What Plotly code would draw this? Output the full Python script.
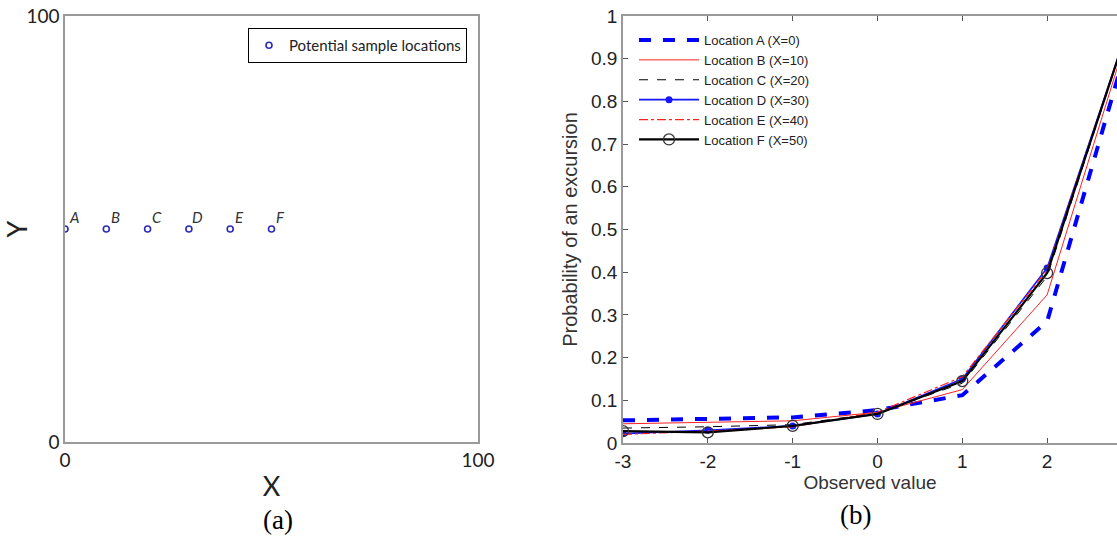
import plotly.graph_objects as go

# ---- data ----
site_x = [0, 10, 20, 30, 40, 50]
site_y = [50, 50, 50, 50, 50, 50]
site_labels = ["A", "B", "C", "D", "E", "F"]

observed = [-3, -2, -1, 0, 1, 2, 3]
loc_names = ["Location A (X=0)", "Location B (X=10)", "Location C (X=20)",
             "Location D (X=30)", "Location E (X=40)", "Location F (X=50)"]
prob_A = [0.053, 0.056, 0.060, 0.077, 0.112, 0.285, 0.97]
prob_B = [0.045, 0.048, 0.052, 0.072, 0.125, 0.347, 0.99]
prob_C = [0.035, 0.038, 0.043, 0.070, 0.140, 0.390, 1.00]
prob_D = [0.022, 0.030, 0.040, 0.068, 0.150, 0.410, 1.00]
prob_E = [0.020, 0.028, 0.038, 0.072, 0.155, 0.405, 1.00]
prob_F = [0.028, 0.025, 0.040, 0.068, 0.145, 0.398, 1.00]
y_ticks = [0, 0.1, 0.2, 0.3, 0.4, 0.5, 0.6, 0.7, 0.8, 0.9, 1]
x_ticks = [-3, -2, -1, 0, 1, 2, 3]
x_tick_text = ["-3", "-2", "-1", "0", "1", "2", "3"]

W, H = 1117, 536
fig = go.Figure()

# ---- panel (a) ----
fig.add_trace(go.Scatter(
    x=site_x, y=site_y, mode="markers", name="Potential sample locations",
    marker=dict(symbol="circle-open", size=6, color="#2b2bb8", line=dict(width=1.6)),
    xaxis="x", yaxis="y", legend="legend"))
for sx, sy, lab in zip(site_x, site_y, site_labels):
    fig.add_annotation(x=sx, y=sy, xref="x", yref="y", text=lab, showarrow=False,
                       xshift=9, yshift=12,
                       font=dict(family="Lato", size=15, color="#333333", style="italic"))

# ---- panel (b) ----
styles = [
    dict(color="#0000ff", width=4, dash="dash"),
    dict(color="#ff2020", width=1, dash="solid"),
    dict(color="#000000", width=1, dash="dash"),
    dict(color="#1515ff", width=1.6, dash="solid"),
    dict(color="#ff2020", width=1.2, dash="dashdot"),
    dict(color="#000000", width=2.2, dash="solid"),
]
series = [prob_A, prob_B, prob_C, prob_D, prob_E, prob_F]
for i, (nm, vals, st) in enumerate(zip(loc_names, series, styles)):
    mode = "lines"
    marker = None
    if i == 3:
        mode = "lines+markers"
        marker = dict(symbol="circle", size=7, color="#1515ff")
    elif i == 5:
        mode = "lines+markers"
        marker = dict(symbol="circle-open", size=11, color="#333333", line=dict(width=1.3))
    fig.add_trace(go.Scatter(x=observed, y=vals, mode=mode, name=nm, line=st,
                             marker=marker, xaxis="x2", yaxis="y2", legend="legend2"))

axis_common = dict(showgrid=False, zeroline=False, showline=True,
                   linecolor="#9a9a9a", linewidth=1.5, automargin=False)

fig.update_layout(
    width=W, height=H,
    margin=dict(l=0, r=0, t=0, b=0, autoexpand=False),
    paper_bgcolor="white", plot_bgcolor="white",
    xaxis=dict(domain=[65 / W, 478 / W], range=[0, 100], tickvals=[0, 100],
               ticks="", mirror=True, anchor="y",
               tickfont=dict(family="Lato", size=19, color="#222"),
               title=dict(text="X", font=dict(family="Lato", size=27, color="#222"), standoff=8),
               **axis_common),
    yaxis=dict(domain=[1 - 442 / H, 1 - 16 / H], range=[0, 100], tickvals=[0, 100],
               ticks="", mirror=True, anchor="x",
               tickfont=dict(family="Lato", size=19, color="#222"),
               title=dict(text="Y", font=dict(family="Lato", size=27, color="#222"), standoff=6),
               **axis_common),
    xaxis2=dict(domain=[623 / W, 1.0], range=[-3, (W - 622) / 85 - 3], tickvals=x_ticks,
                ticktext=x_tick_text,
                ticks="inside", ticklen=5, tickcolor="#555", mirror="ticks", anchor="y2",
                tickfont=dict(family="Liberation Sans", size=19, color="#222"),
                title=dict(text="Observed value", font=dict(family="Liberation Sans", size=19, color="#333"),
                           standoff=2),
                **axis_common),
    yaxis2=dict(domain=[1 - 443 / H, 1 - 16 / H], range=[0, 1], tickvals=y_ticks,
                ticktext=[("%g" % v) for v in y_ticks],
                ticks="inside", ticklen=5, tickcolor="#555", anchor="x2",
                tickfont=dict(family="Liberation Sans", size=19, color="#222"),
                title=dict(text="Probability of an excursion",
                           font=dict(family="Liberation Sans", size=20, color="#333"), standoff=8),
                **axis_common),
    legend=dict(x=467 / W, xanchor="right", y=1 - 28 / H, yanchor="top",
                bgcolor="white", bordercolor="black", borderwidth=1,
                font=dict(family="Lato", size=15, color="#222")),
    legend2=dict(x=634 / W, xanchor="left", y=1 - 25 / H, yanchor="top",
                 bgcolor="rgba(255,255,255,0)", borderwidth=0, itemwidth=60,
                 font=dict(family="Liberation Sans", size=13, color="#222"),
                 tracegroupgap=0),
    showlegend=True,
)

fig.add_annotation(x=278 / W, y=1 - 520 / H, xref="paper", yref="paper", text="(a)",
                   xanchor="center", yanchor="middle", showarrow=False,
                   font=dict(family="Liberation Serif", size=27, color="black"))
fig.add_annotation(x=855 / W, y=1 - 515 / H, xref="paper", yref="paper", text="(b)",
                   xanchor="center", yanchor="middle", showarrow=False,
                   font=dict(family="Liberation Serif", size=27, color="black"))

fig.write_html("out.html", config={"displayModeBar": False},
               post_script="document.body.style.margin='0';document.body.style.overflow='hidden';")
